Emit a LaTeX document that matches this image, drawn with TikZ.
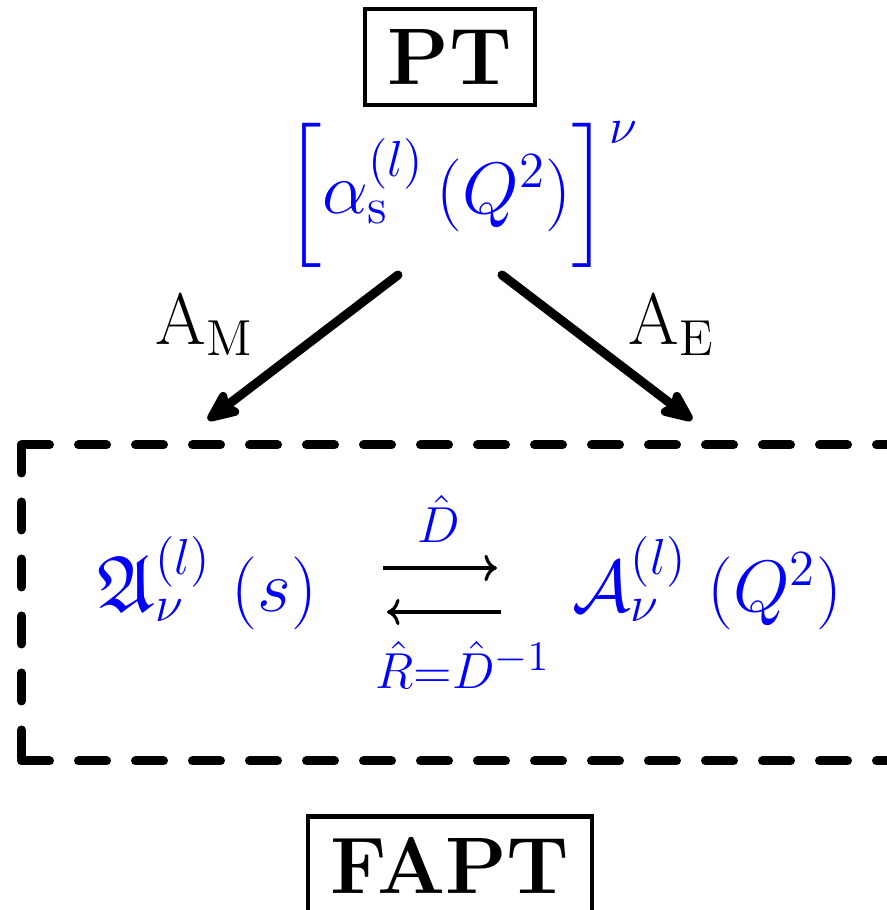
\documentclass[tikz,border=0pt]{standalone}
\usepackage{amsmath,amssymb}
\usepackage{tikz}
\usetikzlibrary{arrows.meta}
\usepackage{xcolor}
\DeclareMathSizes{22.8}{22.8}{15.5}{12.5}

\begin{document}
\begin{tikzpicture}[x=1cm,y=1cm,font=\fontsize{22.8}{27}\selectfont]
  % Styles local to this figure.
  \tikzset{
    theory/.style={draw,line width=1.2pt,inner xsep=6.4pt,inner ysep=5.8pt,font=\fontsize{22.8}{27}\selectfont\bfseries},
    formula/.style={text=blue,inner sep=0pt,anchor=base west},
    frameline/.style={line width=0.09cm,line cap=round,dash pattern=on 0.28cm off 0.29cm},
    mapto/.style={line width=0.09cm,line cap=round,-{Stealth[length=0.40cm,width=0.34cm,inset=0.07cm,round]}},
    ops/.style={line width=0.9pt,->}
  }
  \useasboundingbox (0,0) rectangle (8.87,9.10);

  % Perturbative input.
  \node[theory] (pt) at (4.50,8.53) {PT};
  \node[formula] (coupl) at (2.84,6.96) {$\Big[\alpha_{\mathrm{s}}^{(l)}\,(Q^2)\Big]^{\nu}$};

  % Two analytization maps.
  \coordinate (mstart) at (3.98,6.35);
  \coordinate (mend) at (2.08,4.90);
  \coordinate (estart) at (5.02,6.35);
  \coordinate (eend) at (6.92,4.90);
  \draw[mapto] (mstart) -- (mend);
  \draw[mapto] (estart) -- (eend);
  \node[anchor=base west,inner sep=0pt] (am) at (1.55,5.65) {$\mathrm{A}_{\mathrm{M}}$};
  \node[anchor=base west,inner sep=0pt] (ae) at (6.28,5.65) {$\mathrm{A}_{\mathrm{E}}$};

  % Dashed FAPT frame, open to the right.
  \coordinate (ftl) at (0.215,4.65);
  \coordinate (fbl) at (0.215,1.49);
  \coordinate (ftr) at (9.60,4.65);
  \coordinate (fbr) at (9.60,1.49);
  \draw[frameline] (ftl) -- (fbl);
  \draw[frameline] (ftl) -- (ftr);
  \draw[frameline] (fbl) -- (fbr);

  % Couplings in the s- and Q^2-domains.
  \node[formula] (spec) at (0.97,2.98) {$\mathfrak{A}_{\nu}^{(l)}\;(s)$};
  \node[formula] (anl) at (5.72,2.98) {$\mathcal{A}_{\nu}^{(l)}\;(Q^2)$};
  \coordinate (dl) at (3.83,3.42);
  \coordinate (dr) at (4.97,3.42);
  \coordinate (rr) at (5.01,2.98);
  \coordinate (rl) at (3.87,2.98);
  \draw[ops] (dl) -- (dr);
  \draw[ops] (rr) -- (rl);
  \node[text=blue,anchor=base,inner sep=0pt] (dop) at (4.39,3.67) {$\scriptstyle\hat{D}$};
  \node[formula] (rop) at (3.75,2.21) {$\scriptstyle\hat{R}=\hat{D}^{-1}$};

  \node[theory] (fapt) at (4.50,0.45) {FAPT};
\end{tikzpicture}
\end{document}
